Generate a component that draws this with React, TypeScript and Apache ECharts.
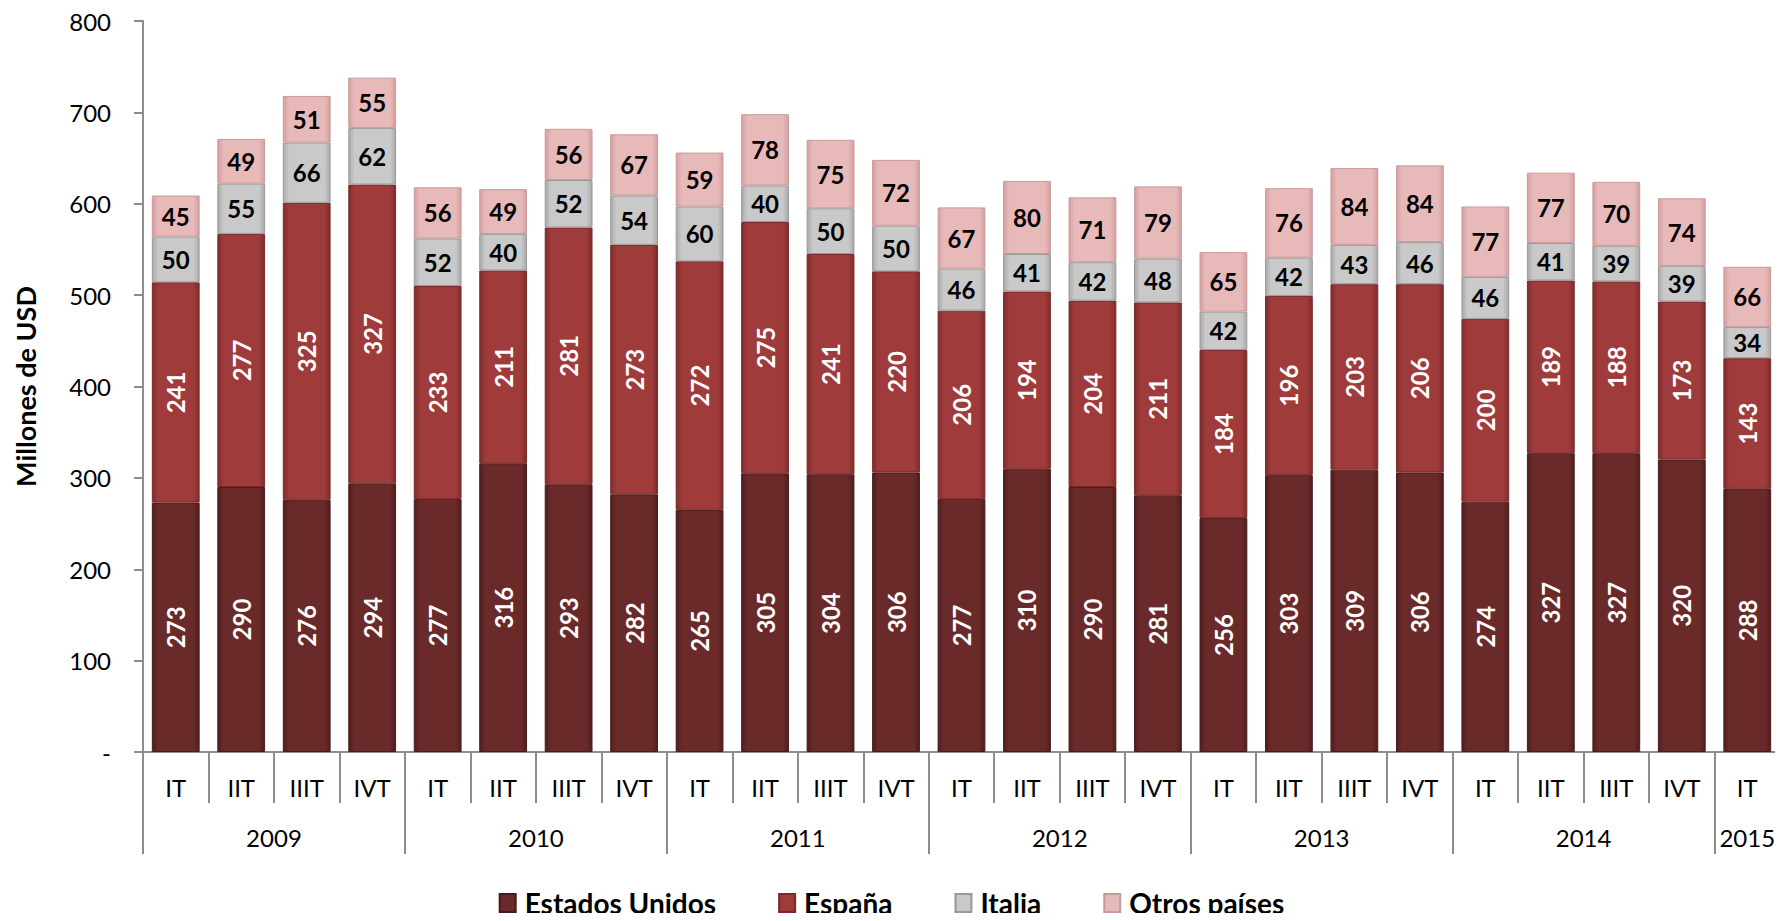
import React, { useEffect, useRef } from "react";
import * as echarts from "echarts";

const years = ["2009", "2010", "2011", "2012", "2013", "2014", "2015"];
const quartersPerYear = [4, 4, 4, 4, 4, 4, 1];
const quarterNames = ["IT", "IIT", "IIIT", "IVT"];

const estadosUnidos = [273, 290, 276, 294, 277, 316, 293, 282, 265, 305, 304, 306, 277, 310, 290, 281, 256, 303, 309, 306, 274, 327, 327, 320, 288];
const espana = [241, 277, 325, 327, 233, 211, 281, 273, 272, 275, 241, 220, 206, 194, 204, 211, 184, 196, 203, 206, 200, 189, 188, 173, 143];
const italia = [50, 55, 66, 62, 52, 40, 52, 54, 60, 40, 50, 50, 46, 41, 42, 48, 42, 42, 43, 46, 46, 41, 39, 39, 34];
const otros = [45, 49, 51, 55, 56, 49, 56, 67, 59, 78, 75, 72, 67, 80, 71, 79, 65, 76, 84, 84, 77, 77, 70, 74, 66];

const seriesNames = ["Estados Unidos", "España", "Italia", "Otros países"];
const yTicks = { min: 0, max: 800, interval: 100 };

const FONT = "Lato, 'Open Sans', sans-serif";

export default function App() {
  const ref = useRef<HTMLDivElement>(null);

  useEffect(() => {
    if (!ref.current) return;
    const chart = echarts.init(ref.current, undefined, { renderer: "svg" });

    const quarterLabels: string[] = [];
    quartersPerYear.forEach((n) => {
      for (let i = 0; i < n; i++) quarterLabels.push(quarterNames[i]);
    });
    const nQ = quarterLabels.length;

    const halfData: string[] = new Array(nQ * 2 + 1).fill("");
    const boundaries = new Set<number>();
    let start = 0;
    quartersPerYear.forEach((n, i) => {
      boundaries.add(start * 2);
      halfData[start * 2 + n] = years[i];
      start += n;
    });
    boundaries.add(start * 2);

    const grad = (edge: string, mid: string) =>
      new echarts.graphic.LinearGradient(0, 0, 1, 0, [
        { offset: 0, color: edge },
        { offset: 0.12, color: mid },
        { offset: 0.88, color: mid },
        { offset: 1, color: edge },
      ]);

    const colors = [
      grad("#4f1e1e", "#6a2a2a"),
      grad("#7e2c2c", "#9f3b3b"),
      grad("#a9a9a9", "#c9c9c9"),
      grad("#d49f9f", "#e8b9b9"),
    ];
    const borders = ["#4a1b1b", "#7a2a2a", "#9a9a9a", "#c99a9a"];
    const dataSets = [estadosUnidos, espana, italia, otros];

    const series = dataSets.map((d, i) => ({
      name: seriesNames[i],
      type: "bar",
      stack: "total",
      xAxisIndex: 0,
      barCategoryGap: "27%",
      data: d,
      itemStyle: {
        color: colors[i],
        borderColor: borders[i],
        borderWidth: 1,
      },
      label: {
        show: true,
        position: "inside",
        rotate: i < 2 ? 90 : 0,
        color: i < 2 ? "#ffffff" : "#000000",
        fontFamily: FONT,
        fontWeight: "bold",
        fontSize: 24,
      },
    }));

    chart.setOption({
      animation: false,
      backgroundColor: "#ffffff",
      grid: { left: 143, right: 3, top: 21, bottom: 169, containLabel: false },
      legend: {
        top: 884,
        left: "center",
        padding: 5,
        icon: "rect",
        itemWidth: 16,
        itemHeight: 18,
        itemGap: 62,
        textStyle: {
          fontFamily: FONT,
          fontWeight: "bold",
          fontSize: 28,
          color: "#000",
          padding: [0, 0, 0, 4],
        },
        data: seriesNames,
      },
      xAxis: [
        {
          type: "category",
          data: quarterLabels,
          position: "bottom",
          offset: 0,
          axisLine: { show: true, lineStyle: { color: "#8c8c8c", width: 2 } },
          axisTick: { show: true, length: 51, lineStyle: { color: "#8c8c8c", width: 2 } },
          axisLabel: { interval: 0, margin: 23, fontFamily: FONT, fontSize: 24, color: "#000" },
        },
        {
          type: "category",
          data: halfData,
          boundaryGap: false,
          position: "bottom",
          offset: 0,
          axisLine: { show: false },
          axisTick: {
            show: true,
            length: 102,
            interval: (idx: number) => boundaries.has(idx),
            lineStyle: { color: "#8c8c8c", width: 2 },
          },
          axisLabel: { interval: 0, margin: 73, fontFamily: FONT, fontSize: 24, color: "#000" },
        },
      ],
      yAxis: {
        type: "value",
        min: yTicks.min,
        max: yTicks.max,
        interval: yTicks.interval,
        name: "Millones de USD",
        nameLocation: "middle",
        nameRotate: 90,
        nameGap: 104,
        nameTextStyle: { fontFamily: FONT, fontWeight: "bold", fontSize: 27, color: "#000" },
        axisLine: { show: true, lineStyle: { color: "#8c8c8c", width: 2 } },
        axisTick: { show: true, length: 9, lineStyle: { color: "#8c8c8c", width: 2 } },
        splitLine: { show: false },
        axisLabel: {
          margin: 32,
          fontFamily: FONT,
          fontSize: 24,
          color: "#000",
          formatter: (v: number) => (v === 0 ? "-" : String(v)),
        },
      },
      series,
    });

    return () => chart.dispose();
  }, []);

  return <div ref={ref} style={{ width: 1783, height: 921, margin: -8 }} />;
}
